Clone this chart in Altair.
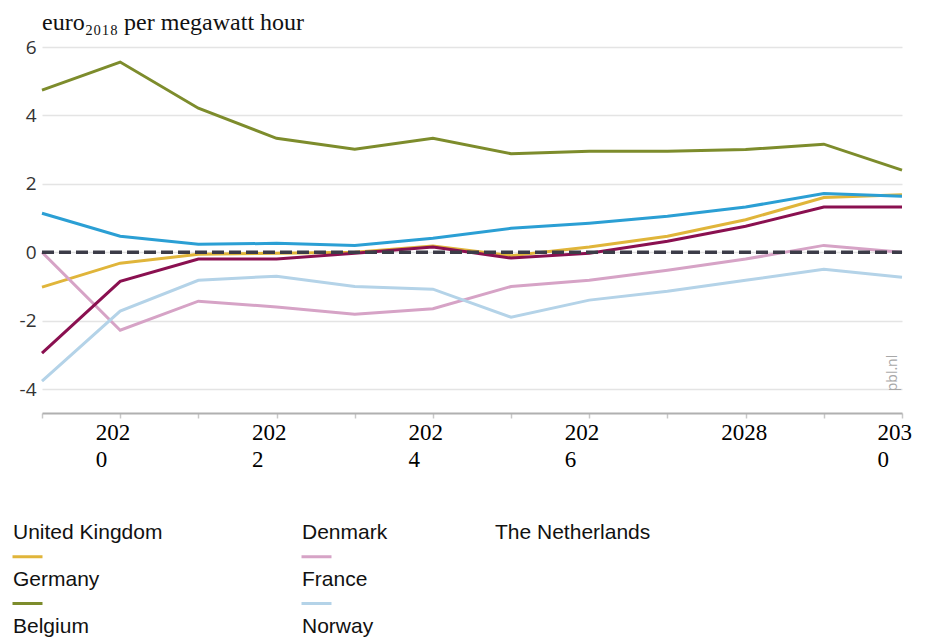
import altair as alt
import pandas as pd

years = list(range(2019, 2031))
germany = [4.74, 5.56, 4.21, 3.33, 3.01, 3.33, 2.88, 2.95, 2.95, 3.00, 3.16, 2.40]
belgium = [1.14, 0.47, 0.23, 0.26, 0.20, 0.41, 0.70, 0.85, 1.05, 1.32, 1.72, 1.64]
united_kingdom = [-1.02, -0.32, -0.06, -0.03, 0.00, 0.18, -0.10, 0.15, 0.47, 0.95, 1.60, 1.68]
norway = [-2.95, -0.85, -0.20, -0.20, -0.03, 0.15, -0.17, -0.03, 0.32, 0.76, 1.32, 1.32]
denmark = [0.00, -2.28, -1.43, -1.60, -1.81, -1.65, -1.00, -0.82, -0.53, -0.20, 0.20, 0.00]
france = [-3.77, -1.72, -0.82, -0.70, -1.00, -1.08, -1.90, -1.40, -1.14, -0.82, -0.50, -0.73]
netherlands = [0, 0, 0, 0, 0, 0, 0, 0, 0, 0, 0, 0]

# legend order (filled column by column): UK, Germany, Belgium | Denmark, France, Norway
countries = ["United Kingdom", "Germany", "Belgium", "Denmark", "France", "Norway"]
colors = ["#e0b53a", "#7d8c2c", "#2b9fd4", "#d6a3c6", "#b4d3e8", "#8a1050"]
series = [united_kingdom, germany, belgium, denmark, france, norway]

rows = []
for c, vals in zip(countries, series):
    for y, v in zip(years, vals):
        rows.append({"year": y, "value": v, "country": c})
df = pd.DataFrame(rows)
draw_order = {"Germany": 0, "Belgium": 1, "United Kingdom": 2, "Norway": 3, "Denmark": 4, "France": 5}
df["ord"] = df["country"].map(draw_order)

df_nl = pd.DataFrame({"year": years, "value": netherlands, "ref": ["The Netherlands"] * len(years)})

x_enc = alt.X(
    "year:Q",
    scale=alt.Scale(domain=[2019, 2030], nice=False, zero=False),
    axis=alt.Axis(
        title=None,
        values=years,
        labelExpr="datum.value % 2 == 0 ? (datum.value == 2028 ? '2028' : [substring(toString(datum.value), 0, 3), substring(toString(datum.value), 3)]) : ''",
        labelFont="Liberation Serif",
        labelFontSize=23,
        labelColor="#000",
        labelAlign="left",
        labelBaseline="top",
        labelOffset=-25,
        labelPadding=3,
        labelLineHeight=27,
        labelOverlap=False,
        labelFlush=False,
        grid=False,
        domainColor="#b0b0b0",
        domainWidth=2,
        tickColor="#c8c8c8",
        tickSize=5,
        tickWidth=1.5,
    ),
)

y_enc = alt.Y(
    "value:Q",
    scale=alt.Scale(domain=[-4.7, 6], nice=False, zero=False),
    axis=alt.Axis(
        title=None,
        values=[-4, -2, 0, 2, 4, 6],
        labelExpr="toString(datum.value)",
        labelFont="Open Sans",
        labelFontSize=19,
        labelColor="#333",
        labelPadding=6,
        domain=False,
        ticks=False,
        gridColor="#e4e4e4",
        gridWidth=1.5,
    ),
)

swatch = "M5,12L20,12"

lines = alt.Chart(df).mark_line(strokeWidth=3).encode(
    x=x_enc,
    y=y_enc,
    order="ord:Q",
    color=alt.Color(
        "country:N",
        scale=alt.Scale(domain=countries, range=colors),
        legend=alt.Legend(
            title=None,
            orient="none",
            direction="vertical",
            legendX=-50,
            legendY=475,
            columns=2,
            columnPadding=118,
            rowPadding=5,
            symbolType=swatch,
            symbolSize=16,
            symbolStrokeWidth=3,
            labelOffset=0,
            labelFont="Liberation Sans",
            labelFontSize=21,
            labelColor="#111",
            labelLimit=400,
        ),
    ),
)

nl = alt.Chart(df_nl).mark_line(strokeWidth=3.5, color="#3c3c48").encode(
    x="year:Q",
    y="value:Q",
    strokeDash=alt.StrokeDash(
        "ref:N",
        scale=alt.Scale(domain=["The Netherlands"], range=[[12, 5]]),
        legend=alt.Legend(
            title=None,
            orient="none",
            legendX=432,
            legendY=475,
            symbolType=swatch,
            symbolSize=16,
            symbolOpacity=0,
            labelOffset=0,
            labelFont="Liberation Sans",
            labelFontSize=21,
            labelColor="#111",
            labelLimit=400,
        ),
    ),
)

pbl = alt.Chart(pd.DataFrame({"t": ["pbl.nl"]})).mark_text(
    angle=270, font="Open Sans", fontSize=14, color="#a8a8a8", align="center", baseline="middle"
).encode(x=alt.value(851), y=alt.value(326), text="t:N")

chart = (
    alt.layer(lines, nl, pbl)
    .properties(
        width=860,
        height=366,
        padding={"left": -16, "top": 3, "right": 0, "bottom": 0},
        title=alt.Title(
            "euro₂₀₁₈ per megawatt hour",
            anchor="start",
            frame="group",
            font="Liberation Serif",
            fontSize=24,
            fontWeight="normal",
            color="#111",
            offset=3,
        ),
    )
    .configure_view(stroke=None)
)

chart.save("out.html", embed_options={"renderer": "svg", "actions": False})
